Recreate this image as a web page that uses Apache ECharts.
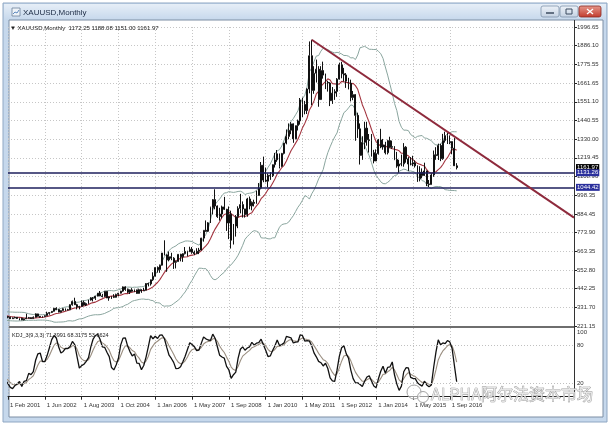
<!DOCTYPE html>
<html><head><meta charset="utf-8">
<script src="https://cdn.jsdelivr.net/npm/echarts@6/dist/echarts.min.js"></script>
<style>html,body{margin:0;padding:0;background:#fff}#c{width:610px;height:426px}</style>
</head><body><div id="c"></div>
<script>
// ---------- DATA (monthly XAUUSD, Jan 1999 .. Dec 2016) ----------
const opens = [
 288,287.5,287.5,279.5,286.5,268,261,256,254.5,299,300,292,
 288,283,293.5,278,273.5,272,288,275.5,277,273.5,264.5,269,
 272.5,265.6,266.7,257.7,263.2,267.5,270.6,265.9,273,293.1,278.8,275.5,
 276.5,282.3,296.9,301.4,308.2,326.6,318.5,304.7,312.8,323.7,316.9,317.7,
 347.2,367.5,347.5,334.9,336.8,361.4,346,354.8,375.6,388,386.3,398.4,
 416.3,399.8,395.9,426.4,387.5,393.3,395.8,391.4,409,415.8,428.3,453.4,
 438,422.2,435.5,427.5,435.7,414.5,437.1,429,433.3,473.3,470.8,495.7,
 517,568.8,556,582,654.5,643.5,613.5,632.5,623.5,599.3,603.8,646.7,
 632,650.5,664.2,661.8,677,659.1,650.5,665.5,672,743,789.5,783.5,
 833.8,923.3,971.5,933.5,871,885.8,928.3,914,833,884.5,730.8,814.5,
 869.8,919.5,942,916.5,883.3,975.5,934.5,955.5,949.5,995.8,1040,1175.8,
 1087.5,1081,1116.5,1113.3,1179.3,1207.5,1244,1169,1246,1307.5,1346.8,1383.5,
 1421.4,1332.5,1411,1439,1563.7,1536.5,1500.4,1628.3,1826,1620,1722,1746,
 1565.8,1738,1711,1668,1664,1559,1604,1614,1687,1772,1719,1712,
 1675,1663,1578,1595,1472,1392,1234,1312,1396,1327,1323,1250,
 1201,1244,1326,1284,1296,1250,1322,1282,1287,1210,1171,1183,
 1184,1283,1213,1183,1183,1190,1172,1095,1134,1115,1142,1065,
 1061,1118,1238,1233,1293,1215,1322,1351,1309,1316,1277,1172.25
];
const highs = [
 293,291,290,292,290,273,262,260,300,340,303,294,
 291,316,296,286,279,294,292,280,278,276,272,276,
 272.5,268,270,265,294,275,272,278,296,294,280,281,
 285,306,304,310,328,332,323,314,327,325,323,350,
 372,389,353,341,372,372,360,377,392,393,400,417,
 429,412,428,428,395,399,410,413,418,430,456,457,
 444,438,446,438,437,443,439,448,476,479,497,540,
 570,575,586,655,730,646,663,656,630,610,648,650,
 653,690,668,692,690,669,683,685,745,790,848,838,
 930,975,1033,937,923,936,988,917,931,906,827,880,
 932,1006,961,917,982,990,961,971,1025,1070,1195,1227,
 1162,1127,1135,1180,1249,1266,1245,1249,1308,1388,1424,1432,
 1424,1411,1447,1575,1577,1558,1632,1911,1921,1764,1803,1764,
 1764,1791,1720,1677,1669,1640,1627,1693,1785,1790,1754,1723,
 1695,1684,1617,1598,1488,1424,1348,1434,1434,1361,1361,1267,
 1270,1332,1392,1332,1315,1327,1345,1322,1289,1255,1208,1239,
 1307,1289,1224,1224,1232,1205,1175,1170,1157,1191,1143,1088,
 1127,1263,1283,1304,1304,1362,1375,1367,1353,1317,1337,1188.08
];
const lows = [
 283,283,278,278,268,256,251,252,253,295,289,278,
 281,282,274,272,265,271,274,268,267,263,263,267,
 262.5,255,255.5,254.5,263,266,263,264,271.5,277,270.5,271,
 276,281,288,298,307,315,302,301,311,311,314,316,
 342,346,320,320,336,342,340,352,372,367,376,397,
 398,391,393,387,371,382,387,390,397,414,424,430,
 416,411,424,422,414,413,418,429,433,456,461,489,
 515,538,537,580,640,543,605,612,560,563,603,605,
 602,646,635,661,650,642,648,648,670,722,781,780,
 833,884,914,863,847,860,910,786,737,681,705,752,
 802,890,865,865,870,914,908,931,947,995,1033,1075,
 1075,1045,1089,1106,1162,1196,1157,1165,1240,1300,1330,1360,
 1309,1330,1382,1417,1462,1478,1480,1603,1532,1600,1667,1523,
 1563,1690,1628,1613,1527,1540,1564,1582,1684,1692,1673,1635,
 1626,1555,1562,1321,1338,1180,1208,1271,1292,1251,1227,1187,
 1200,1239,1277,1268,1240,1240,1281,1273,1206,1161,1131.26,1170,
 1167,1191,1142,1175,1170,1162,1077,1080,1098,1112,1052,1046,
 1061,1107,1208,1207,1200,1208,1310,1302,1301,1241,1171,1151.00
];
const closes = [
 287.5,287.5,279.5,286.5,268,261,256,254.5,299,300,292,288,
 283,293.5,278,273.5,272,288,275.5,277,273.5,264.5,269,272.5,
 265.6,266.7,257.7,263.2,267.5,270.6,265.9,273,293.1,278.8,275.5,276.5,
 282.3,296.9,301.4,308.2,326.6,318.5,304.7,312.8,323.7,316.9,317.7,347.2,
 367.5,347.5,334.9,336.8,361.4,346,354.8,375.6,388,386.3,398.4,416.3,
 399.8,395.9,426.4,387.5,393.3,395.8,391.4,409,415.8,428.3,453.4,438,
 422.2,435.5,427.5,435.7,414.5,437.1,429,433.3,473.3,470.8,495.7,517,
 568.8,556,582,654.5,643.5,613.5,632.5,623.5,599.3,603.8,646.7,632,
 650.5,664.2,661.8,677,659.1,650.5,665.5,672,743,789.5,783.5,833.8,
 923.3,971.5,933.5,871,885.8,928.3,914,833,884.5,730.8,814.5,869.8,
 919.5,942,916.5,883.3,975.5,934.5,955.5,949.5,995.8,1040,1175.8,1087.5,
 1081,1116.5,1113.3,1179.3,1207.5,1244,1169,1246,1307.5,1346.8,1383.5,1421.4,
 1332.5,1411,1439,1563.7,1536.5,1500.4,1628.3,1826,1620,1722,1746,1565.8,
 1738,1711,1668,1664,1559,1604,1614,1687,1772,1719,1712,1675,
 1663,1578,1595,1472,1392,1234,1312,1396,1327,1323,1250,1201,
 1244,1326,1284,1296,1250,1322,1282,1287,1210,1171,1183,1184,
 1283,1213,1183,1183,1190,1172,1095,1134,1115,1142,1065,1061,
 1118,1238,1233,1293,1215,1322,1351,1309,1316,1277,1173,1161.97
];
const firstYear = 1999;          // first month of the data: Jan 1999
const totalMonths = 267;         // data months + empty right margin of the chart
const viewFirstMonth = '2000-09';
const viewLastMonth = '2021-03';
const xTickMonths = ['2000-09','2002-01','2003-05','2004-09','2006-01','2007-05','2008-09','2010-01','2011-05','2012-09','2014-01','2015-05','2016-09'];
const xTickLabels = ['1 Feb 2001','1 Jun 2002','1 Aug 2003','1 Oct 2004','1 Jan 2006','1 May 2007','1 Sep 2008','1 Jan 2010','1 May 2011','1 Sep 2012','1 Jan 2014','1 May 2015','1 Sep 2016'];
const priceTicks = ['221.15','331.70','442.25','552.80','663.35','773.90','884.45','998.35','1108.90','1219.45','1330.00','1440.55','1551.10','1661.65','1775.55','1886.10','1996.65'];
const kdjTickLabels = [20, 80, 100];
const kdjLevels = [80, 20];
const supportLevels = [1131.26, 1044.42];
const trendLine = [['2011-09', 1921], ['2021-03', 865]];
const kdjHeader = 'KDJ_3(9,3,3) 71.3991 68.3175 53.5624';

// ---------- categories ----------
const months = [];
for (let i = 0; i < totalMonths; i++) {
  const y = firstYear + Math.floor(i / 12), m = i % 12 + 1;
  months.push(y + '-' + (m < 10 ? '0' : '') + m);
}
const tickMap = {};
xTickMonths.forEach((m, i) => tickMap[m] = xTickLabels[i]);
const isTick = (idx, val) => tickMap[val] !== undefined;

// ---------- indicators from the data ----------
const n = closes.length;
const candles = opens.map((o, i) => [o, closes[i], lows[i], highs[i]]);
const ma10 = closes.map((c, i) => i < 9 ? '-' : closes.slice(i - 9, i + 1).reduce((a, b) => a + b, 0) / 10);
const bbUp = [], bbLow = [];
for (let i = 0; i < n; i++) {
  if (i < 19) { bbUp.push('-'); bbLow.push('-'); continue; }
  const s = closes.slice(i - 19, i + 1);
  const m = s.reduce((a, b) => a + b, 0) / 20;
  const sd = Math.sqrt(s.reduce((a, b) => a + (b - m) * (b - m), 0) / 20);
  bbUp.push(m + 2 * sd); bbLow.push(m - 2 * sd);
}
// KDJ(9,3,3): K = 3-bar average of the 9-bar RSV, D = 1/3 smoothed K
const rsv = closes.map((c, i) => {
  if (i < 8) return null;
  const hh = Math.max(...highs.slice(i - 8, i + 1)), ll = Math.min(...lows.slice(i - 8, i + 1));
  return (c - ll) / (hh - ll) * 100;
});
const kLine = rsv.map((v, i) => i < 10 ? null : (rsv[i] + rsv[i - 1] + rsv[i - 2]) / 3);
const dLine = [];
kLine.forEach((k, i) => {
  if (k == null) { dLine.push(null); return; }
  const prev = dLine[i - 1];
  dLine.push(prev == null ? k : prev * 2 / 3 + k / 3);
});
const kSeries = kLine.map(v => v == null ? '-' : v);
const dSeries = dLine.map(v => v == null ? '-' : v);

const pMin = +priceTicks[0], pMax = +priceTicks[priceTicks.length - 1];
const pStep = (pMax - pMin) / (priceTicks.length - 1);
const last = n - 1;
const mainHeader = '\u25BC XAUUSD,Monthly  ' + [opens[last], highs[last], lows[last], closes[last]].map(v => v.toFixed(2)).join(' ');

const FONT = '"Liberation Sans", Arial, sans-serif';
const gridLine = { show: true, lineStyle: { color: '#c6c6c6', type: [1, 2], width: 1 } };

const chart = echarts.init(document.getElementById('c'), null, { renderer: 'canvas', width: 610, height: 426 });
const xMin = months.indexOf(viewFirstMonth), xMax = months.indexOf(viewLastMonth);

const option = {
  animation: false,
  backgroundColor: '#ffffff',
  textStyle: { fontFamily: FONT },
  grid: [
    { left: 8, right: 36, top: 27, height: 299 },
    { left: 8, right: 36, top: 328, height: 70 }
  ],
  xAxis: [
    { type: 'category', gridIndex: 0, data: months, boundaryGap: false, min: xMin, max: xMax,
      axisLine: { show: false }, axisTick: { show: false }, axisLabel: { show: false },
      splitLine: Object.assign({ interval: isTick }, gridLine) },
    { type: 'category', gridIndex: 1, data: months, boundaryGap: false, min: xMin, max: xMax,
      axisLine: { show: true, lineStyle: { color: '#222', width: 1 } },
      axisTick: { show: true, interval: isTick, length: 3, lineStyle: { color: '#222' } },
      axisLabel: { show: true, interval: isTick, formatter: v => tickMap[v] || '', align: 'left',
        fontSize: 6, color: '#333', margin: 4, padding: [0, 0, 0, 2], fontFamily: FONT },
      splitLine: Object.assign({ interval: isTick }, gridLine) }
  ],
  yAxis: [
    { type: 'value', gridIndex: 0, position: 'right', min: pMin, max: pMax, interval: pStep,
      axisLine: { show: false },
      axisTick: { show: true, length: 3, lineStyle: { color: '#222' } },
      axisLabel: { formatter: v => { const k = Math.round((v - pMin) / pStep); return priceTicks[k] || ''; },
        fontSize: 6, color: '#333', margin: 3, fontFamily: FONT },
      splitLine: gridLine },
    { type: 'value', gridIndex: 1, position: 'right', min: -2, max: 106, interval: 2,
      axisLine: { show: false }, axisTick: { show: false }, splitLine: { show: false },
      axisLabel: { formatter: v => { const r = Math.round(v); return (Math.abs(v - r) < 1e-6 && kdjTickLabels.includes(r)) ? String(r) : ''; },
        fontSize: 6, color: '#333', margin: 3, fontFamily: FONT } }
  ],
  series: [
    { name: 'BB upper', type: 'line', xAxisIndex: 0, yAxisIndex: 0, data: bbUp, symbol: 'none',
      lineStyle: { color: '#8aa59e', width: 1 }, z: 2 },
    { name: 'BB lower', type: 'line', xAxisIndex: 0, yAxisIndex: 0, data: bbLow, symbol: 'none',
      lineStyle: { color: '#8aa59e', width: 1 }, z: 2 },
    { name: 'MA10', type: 'line', xAxisIndex: 0, yAxisIndex: 0, data: ma10, symbol: 'none',
      lineStyle: { color: '#a3343f', width: 1.1 }, z: 3 },
    { name: 'XAUUSD', type: 'candlestick', xAxisIndex: 0, yAxisIndex: 0, data: candles, barWidth: 1.4,
      itemStyle: { color: '#ffffff', color0: '#000000', borderColor: '#111111', borderColor0: '#111111', borderWidth: 1 },
      z: 4,
      markLine: { symbol: 'none', silent: true, animation: false,
        data: [
          { yAxis: closes[last], lineStyle: { width: 0, color: 'rgba(0,0,0,0)' },
            label: { show: true, position: 'end', distance: 2, formatter: p => (+p.value).toFixed(2), color: '#fff',
              backgroundColor: '#000', padding: [1, 1, 0, 1], fontSize: 6, fontFamily: FONT } },
          ...supportLevels.map(v => ({ yAxis: v, lineStyle: { color: '#1e1f5c', width: 1.6, type: 'solid' },
            label: { show: true, position: 'end', distance: 2, formatter: p => (+p.value).toFixed(2), color: '#fff',
              backgroundColor: '#2a2f9c', padding: [1, 1, 0, 1], fontSize: 6, fontFamily: FONT } }))
        ] } },
    { name: 'Trend', type: 'line', xAxisIndex: 0, yAxisIndex: 0, data: trendLine, symbol: 'none',
      lineStyle: { color: '#8e2a3c', width: 2 }, z: 5 },
    { name: 'D', type: 'line', xAxisIndex: 1, yAxisIndex: 1, data: dSeries, symbol: 'none',
      lineStyle: { color: '#9a8e80', width: 1.1 }, z: 3,
      markLine: { symbol: 'none', silent: true, animation: false, label: { show: false },
        lineStyle: { color: '#c0c0c0', type: [1, 2], width: 1 },
        data: kdjLevels.map(v => ({ yAxis: v })) } },
    { name: 'K', type: 'line', xAxisIndex: 1, yAxisIndex: 1, data: kSeries, symbol: 'none',
      lineStyle: { color: '#111111', width: 1.3 }, z: 4 }
  ],
  graphic: [
    // window frame
    { type: 'rect', z: -100, shape: { x: 3, y: 3, width: 604, height: 419 },
      style: { fill: '#c6d8ec', stroke: '#8fa7c3', lineWidth: 1 } },
    { type: 'rect', z: -99, shape: { x: 4, y: 4, width: 602, height: 16 },
      style: { fill: new echarts.graphic.LinearGradient(0, 0, 0, 1, [{ offset: 0, color: '#e6eef7' }, { offset: 1, color: '#c6d8ec' }]) } },
    { type: 'rect', z: -98, shape: { x: 9, y: 20, width: 594, height: 397 },
      style: { fill: '#ffffff', stroke: '#7d8ea4', lineWidth: 1 } },
    // title icon + title
    { type: 'rect', z: 20, shape: { x: 12, y: 8, width: 8, height: 8 }, style: { fill: '#eef3f8', stroke: '#6d8199', lineWidth: 0.8 } },
    { type: 'polyline', z: 21, shape: { points: [[13, 14], [15, 12], [17, 13], [19, 10]] }, style: { stroke: '#3a6fb0', lineWidth: 0.8, fill: null } },
    { type: 'text', z: 20, x: 23, y: 13, style: { text: 'XAUUSD,Monthly', fill: '#1c2b44', font: '8px ' + FONT, verticalAlign: 'middle' } },
    // window buttons
    { type: 'rect', z: 20, shape: { x: 541, y: 6, width: 18, height: 11, r: 2 },
      style: { fill: new echarts.graphic.LinearGradient(0, 0, 0, 1, [{ offset: 0, color: '#eef3f9' }, { offset: 1, color: '#c3d1e2' }]), stroke: '#8094ab', lineWidth: 0.8 } },
    { type: 'line', z: 21, shape: { x1: 546, y1: 13, x2: 554, y2: 13 }, style: { stroke: '#3d4c60', lineWidth: 1.5 } },
    { type: 'rect', z: 20, shape: { x: 560, y: 6, width: 18, height: 11, r: 2 },
      style: { fill: new echarts.graphic.LinearGradient(0, 0, 0, 1, [{ offset: 0, color: '#eef3f9' }, { offset: 1, color: '#c3d1e2' }]), stroke: '#8094ab', lineWidth: 0.8 } },
    { type: 'rect', z: 21, shape: { x: 566, y: 9, width: 6, height: 5 }, style: { fill: null, stroke: '#3d4c60', lineWidth: 1 } },
    { type: 'rect', z: 20, shape: { x: 579, y: 6, width: 22, height: 11, r: 2 },
      style: { fill: new echarts.graphic.LinearGradient(0, 0, 0, 1, [{ offset: 0, color: '#e69a8e' }, { offset: 1, color: '#c1392b' }]), stroke: '#8c2a22', lineWidth: 0.8 } },
    { type: 'line', z: 21, shape: { x1: 587, y1: 9, x2: 593, y2: 14 }, style: { stroke: '#fff', lineWidth: 1.3 } },
    { type: 'line', z: 21, shape: { x1: 593, y1: 9, x2: 587, y2: 14 }, style: { stroke: '#fff', lineWidth: 1.3 } },
    // panel separator and price-scale line
    { type: 'line', z: 10, shape: { x1: 9, y1: 327, x2: 575, y2: 327 }, style: { stroke: '#6e6e6e', lineWidth: 2 } },
    { type: 'line', z: 10, shape: { x1: 574.5, y1: 20, x2: 574.5, y2: 398 }, style: { stroke: '#333', lineWidth: 1 } },
    // headers
    { type: 'text', z: 20, x: 10, y: 28, style: { text: mainHeader, fill: '#222', font: '6px ' + FONT, verticalAlign: 'middle' } },
    { type: 'text', z: 20, x: 12, y: 335, style: { text: kdjHeader, fill: '#222', font: '5.5px ' + FONT, verticalAlign: 'middle' } },
    // watermark
    { type: 'circle', z: 30, shape: { cx: 414, cy: 392, r: 7 }, style: { fill: 'rgba(255,255,255,0.55)', stroke: '#9a9a9a', lineWidth: 0.9 } },
    { type: 'circle', z: 31, shape: { cx: 423, cy: 397, r: 5.5 }, style: { fill: 'rgba(255,255,255,0.55)', stroke: '#9a9a9a', lineWidth: 0.9 } },
    { type: 'text', z: 32, x: 431, y: 394, style: { text: 'ALPHA阿尔法资本市场', fill: 'rgba(235,235,235,0.85)', stroke: '#8e8e8e', lineWidth: 0.7,
      font: '16px "Noto Sans CJK SC", "Noto Sans", sans-serif', verticalAlign: 'middle' } }
  ]
};
chart.setOption(option);
</script>
</body></html>
